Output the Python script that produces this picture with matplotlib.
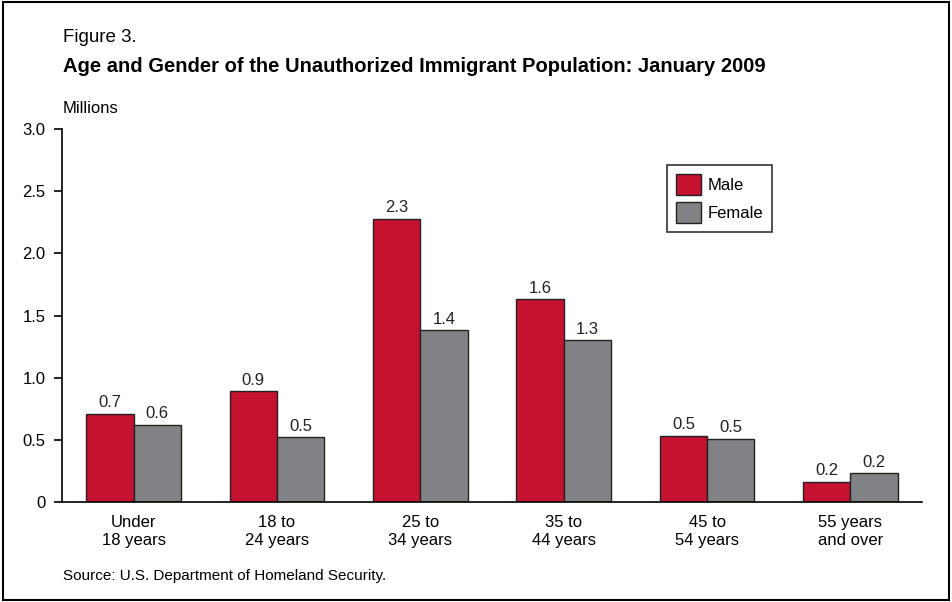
import matplotlib.pyplot as plt
import numpy as np
from matplotlib.patches import Rectangle

plt.rcParams['font.family'] = ['Liberation Sans', 'DejaVu Sans']

categories = ['Under\n18 years', '18 to\n24 years', '25 to\n34 years',
              '35 to\n44 years', '45 to\n54 years', '55 years\nand over']
male = [0.71, 0.89, 2.28, 1.63, 0.53, 0.16]
female = [0.62, 0.52, 1.38, 1.30, 0.51, 0.23]
male_labels = ['0.7', '0.9', '2.3', '1.6', '0.5', '0.2']
female_labels = ['0.6', '0.5', '1.4', '1.3', '0.5', '0.2']

red = '#C41230'
gray = '#808285'

fig = plt.figure(figsize=(9.52, 6.02), dpi=100)
ax = fig.add_axes([0.0651, 0.1661, 0.9035, 0.6196])

x = np.arange(len(categories))
w = 0.33
b1 = ax.bar(x - w / 2, male, w, color=red, edgecolor='#222222', linewidth=1.0, label='Male')
b2 = ax.bar(x + w / 2, female, w, color=gray, edgecolor='#222222', linewidth=1.0, label='Female')

for bars, labs in [(b1, male_labels), (b2, female_labels)]:
    for bar, lab in zip(bars, labs):
        ax.text(bar.get_x() + bar.get_width() / 2, bar.get_height() + 0.03, lab,
                ha='center', va='bottom', fontsize=12, color='#222222')

ax.set_xlim(-0.5, 5.5)
ax.set_ylim(0, 3.0)
ax.set_yticks([0, 0.5, 1.0, 1.5, 2.0, 2.5, 3.0])
ax.set_yticklabels(['0', '0.5', '1.0', '1.5', '2.0', '2.5', '3.0'], fontsize=12)
ax.set_xticks(x)
ax.set_xticklabels(categories, fontsize=12, linespacing=1.3)
ax.tick_params(axis='x', length=0, pad=9)
ax.tick_params(axis='y', length=6, width=1.2, direction='out', pad=6)
for s in ['top', 'right']:
    ax.spines[s].set_visible(False)
ax.spines['left'].set_linewidth(1.2)
ax.spines['bottom'].set_linewidth(1.2)

leg = ax.legend(loc='upper left', bbox_to_anchor=(0.703, 0.903), fontsize=12,
                frameon=True, fancybox=False, edgecolor='black',
                handlelength=1.5, handleheight=1.5, borderpad=0.55, labelspacing=0.45,
                handletextpad=0.4, borderaxespad=0)
leg.get_frame().set_linewidth(1.2)

fig.text(0.066, 0.937, 'Figure 3.', fontsize=13.5, va='center')
fig.text(0.066, 0.890, 'Age and Gender of the Unauthorized Immigrant Population: January 2009',
         fontsize=14.5, fontweight='bold', va='center')
fig.text(0.066, 0.820, 'Millions', fontsize=12, va='center')
fig.text(0.066, 0.043, 'Source: U.S. Department of Homeland Security.', fontsize=11, va='center')

fig.patches.append(Rectangle((0.003, 0.004), 0.994, 0.992, transform=fig.transFigure,
                             fill=False, edgecolor='black', linewidth=1.5))

fig.savefig('out.png', dpi=100)
